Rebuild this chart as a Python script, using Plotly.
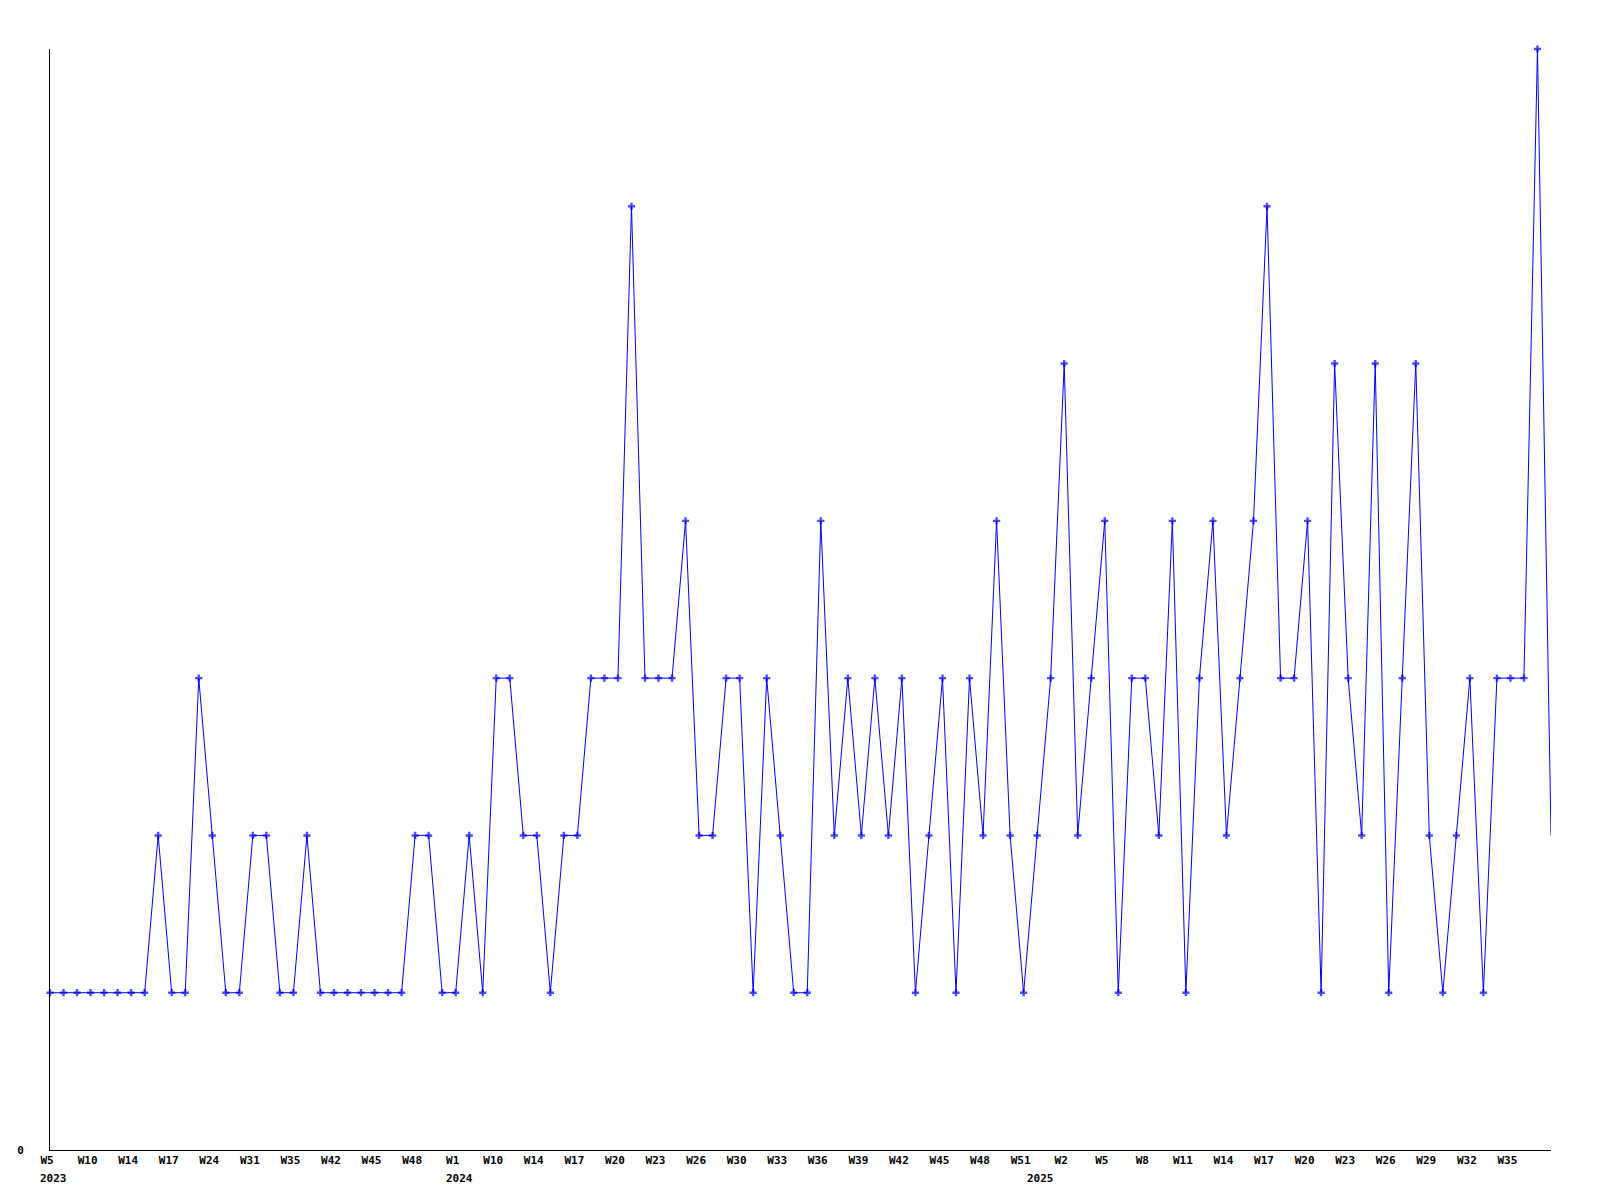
import plotly.graph_objects as go

# Weekly values (one point per week with data)
values = [
    1, 1, 1, 1, 1, 1, 1, 1, 2, 1,
    1, 3, 2, 1, 1, 2, 2, 1, 1, 2,
    1, 1, 1, 1, 1, 1, 1, 2, 2, 1,
    1, 2, 1, 3, 3, 2, 2, 1, 2, 2,
    3, 3, 3, 6, 3, 3, 3, 4, 2, 2,
    3, 3, 1, 3, 2, 1, 1, 4, 2, 3,
    2, 3, 2, 3, 1, 2, 3, 1, 3, 2,
    4, 2, 1, 2, 3, 5, 2, 3, 4, 1,
    3, 3, 2, 4, 1, 3, 4, 2, 3, 4,
    6, 3, 3, 4, 1, 5, 3, 2, 5, 1,
    3, 5, 2, 1, 2, 3, 1, 3, 3, 3,
    7, 2,
]

# Week tick labels (every third point)
tick_labels = [
    "W5", "W10", "W14", "W17", "W24", "W31", "W35", "W42", "W45", "W48",
    "W1", "W10", "W14", "W17", "W20", "W23", "W26", "W30", "W33", "W36",
    "W39", "W42", "W45", "W48", "W51", "W2", "W5", "W8", "W11", "W14",
    "W17", "W20", "W23", "W26", "W29", "W32", "W35",
]

# Year labels and the point index where each year starts
year_labels = ["2023", "2024", "2025"]
year_start_idx = [0, 30, 73]

n = len(values)
x = list(range(n))
tick_step = 3
tickvals = list(range(0, n, tick_step))[: len(tick_labels)]

FONT = "DejaVu Sans Mono"

fig = go.Figure(
    go.Scatter(
        x=x,
        y=values,
        mode="lines+markers",
        line=dict(color="#0000ff", width=1),
        marker=dict(symbol="cross", size=[6] * (n - 1) + [0], color="#0000ff",
                    line=dict(width=0)),
        cliponaxis=False,
        hoverinfo="x+y",
    )
)

for lab, idx in zip(year_labels, year_start_idx):
    fig.add_annotation(
        x=idx, xref="x", y=0, yref="paper",
        text=lab, showarrow=False,
        xanchor="left", yanchor="top",
        xshift=-12, yshift=-20,
        font=dict(family=FONT, size=11, color="black", weight=700),
    )

fig.update_layout(
    width=1584,
    height=1184,
    margin=dict(l=42, r=41, t=41, b=42, autoexpand=False),
    paper_bgcolor="white",
    plot_bgcolor="white",
    showlegend=False,
    xaxis=dict(
        range=[0, n - 1],
        automargin=False,
        showgrid=False,
        zeroline=False,
        showline=True,
        linecolor="black",
        linewidth=1,
        ticks="",
        tickvals=tickvals,
        ticktext=tick_labels,
        tickfont=dict(family=FONT, size=11, color="black", weight=700),
        tickangle=0,
        ticklabelshift=-3,
    ),
    yaxis=dict(
        range=[0, 7],
        automargin=False,
        showgrid=False,
        zeroline=False,
        showline=True,
        linecolor="black",
        linewidth=1,
        ticks="",
        tickvals=[0],
        ticktext=["0"],
        tickfont=dict(family=FONT, size=11, color="black", weight=700),
        ticklabelstandoff=23,
    ),
)

fig.write_html("out.html")
